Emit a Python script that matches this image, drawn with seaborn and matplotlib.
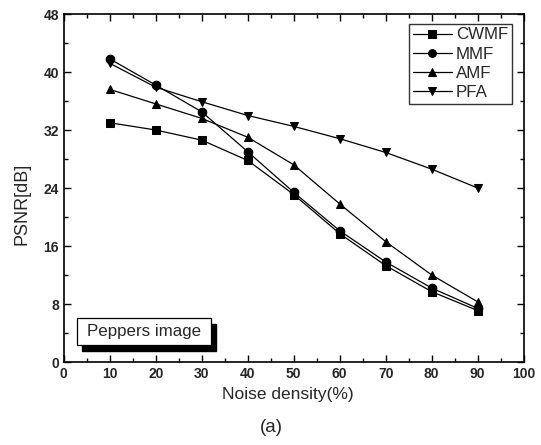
import matplotlib
matplotlib.use("Agg")
import matplotlib.pyplot as plt
import seaborn as sns
import pandas as pd
from matplotlib.patches import Rectangle
from matplotlib.ticker import MultipleLocator

noise = [10, 20, 30, 40, 50, 60, 70, 80, 90]
cwmf = [33.0, 32.0, 30.6, 27.8, 23.1, 17.7, 13.3, 9.7, 7.1]
mmf = [41.8, 38.2, 34.5, 29.0, 23.4, 18.1, 13.8, 10.2, 7.4]
amf = [37.6, 35.6, 33.6, 31.0, 27.2, 21.8, 16.6, 12.0, 8.3]
pfa = [41.2, 37.9, 35.9, 34.0, 32.5, 30.8, 28.9, 26.6, 24.0]
methods = ["CWMF", "MMF", "AMF", "PFA"]
xticks = [0, 10, 20, 30, 40, 50, 60, 70, 80, 90, 100]
yticks = [0, 8, 16, 24, 32, 40, 48]

df = pd.DataFrame({
    "Noise": noise * 4,
    "PSNR": cwmf + mmf + amf + pfa,
    "Method": sum([[m] * len(noise) for m in methods], []),
})

sns.set_style("ticks")
plt.rcParams["font.family"] = ["Liberation Sans", "DejaVu Sans"]

fig = plt.figure(figsize=(5.41, 4.45), dpi=100)
ax = fig.add_axes([0.118, 0.1865, 0.850, 0.782])

markers = {"CWMF": "s", "MMF": "o", "AMF": "^", "PFA": "v"}
sns.lineplot(data=df, x="Noise", y="PSNR", hue="Method", style="Method",
             palette=["black"] * 4, markers=markers, dashes=False,
             markersize=6.2, linewidth=0.9, markeredgecolor="black", ax=ax)

ax.set_xlim(0, 100)
ax.set_ylim(0, 48)
ax.set_xticks(xticks)
ax.set_yticks(yticks)
ax.xaxis.set_minor_locator(MultipleLocator(5))
ax.yaxis.set_minor_locator(MultipleLocator(4))
ax.tick_params(which="both", direction="in", top=True, right=True, width=1, color="black")
ax.tick_params(which="major", length=5)
ax.tick_params(which="minor", length=3)
for lab in ax.get_xticklabels() + ax.get_yticklabels():
    lab.set_fontweight("bold")
    lab.set_fontsize(10)
for s in ax.spines.values():
    s.set_linewidth(1.2)
    s.set_color("black")

ax.set_xlabel("Noise density(%)", fontsize=12.5)
ax.set_ylabel("PSNR[dB]", fontsize=13)
ax.xaxis.set_label_coords(0.486, -0.072, transform=ax.transAxes)
ax.xaxis.label.set_va("top")
ax.yaxis.set_label_coords(-0.072, 0.454, transform=ax.transAxes)

leg = ax.legend(loc="upper right", bbox_to_anchor=(0.974, 0.971), borderaxespad=0,
                frameon=True, fancybox=False, edgecolor="black",
                fontsize=12.2, handlelength=2.3, handletextpad=0.25, borderpad=0.2,
                labelspacing=0.25, markerscale=0.9)
leg.get_frame().set_linewidth(1.0)

# shadowed label box
ax.add_patch(Rectangle((3.9, 1.5), 29.1, 3.8, facecolor="black", edgecolor="black",
                       zorder=5, clip_on=False))
ax.add_patch(Rectangle((2.8, 2.3), 29.1, 3.8, facecolor="white", edgecolor="black",
                       linewidth=0.9, zorder=6, clip_on=False))
ax.text(17.35, 4.2, "Peppers image", ha="center", va="center", fontsize=12.2, zorder=7)

fig.text(271.5 / 541, 1 - 428 / 445, "(a)", ha="center", va="center", fontsize=13.5)

fig.savefig("out.png", dpi=100)
